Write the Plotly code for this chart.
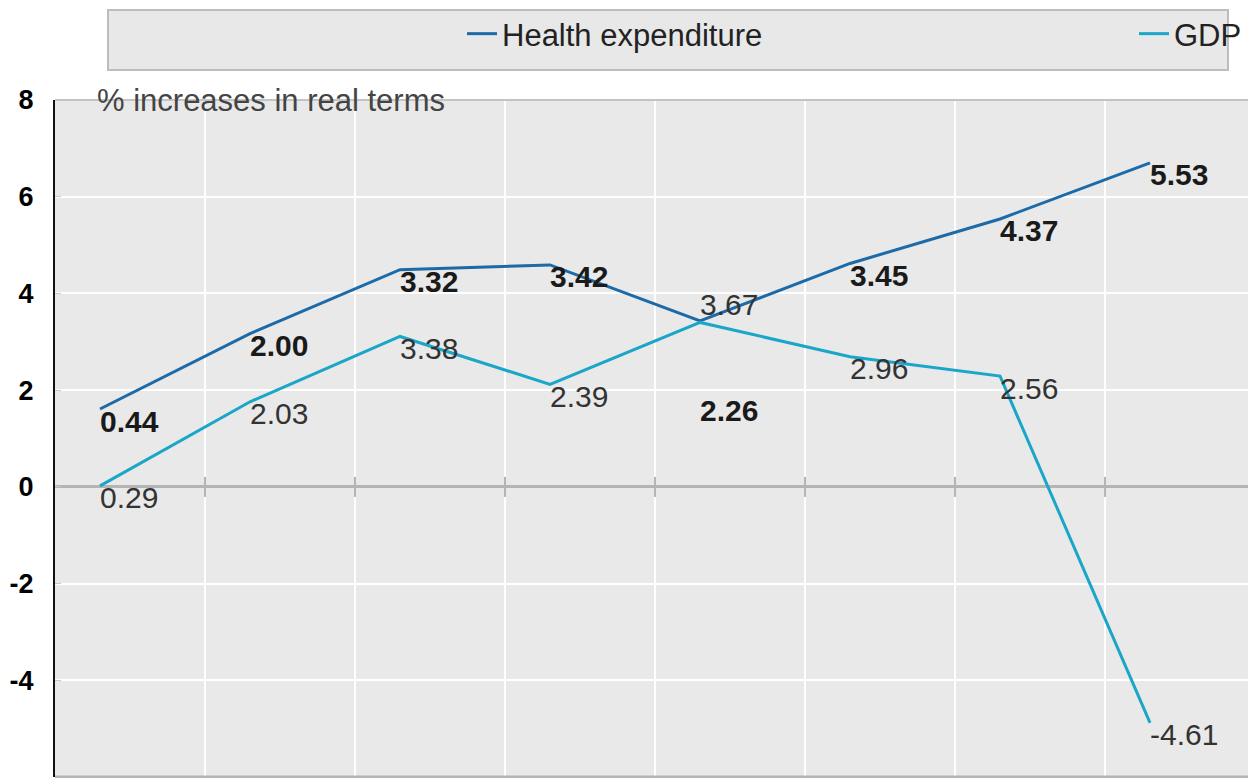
import plotly.graph_objects as go

# Growth rates, % increases in real terms, one value per period
period_index = [0, 1, 2, 3, 4, 5, 6, 7]
health_expenditure = [0.44, 2.00, 3.32, 3.42, 2.26, 3.45, 4.37, 5.53]
gdp = [0.29, 2.03, 3.38, 2.39, 3.67, 2.96, 2.56, -4.61]

y_ticks = [-6, -4, -2, 0, 2, 4, 6, 8]
y_tick_text = ["-6", "-4", "-2", "0", "2", "4", "6", "8"]
y_range = [-6, 8]
# baseline shift of each series' own value scale against the shared grid
health_shift = 1.17
gdp_shift = -0.27

HEALTH_COLOR = "#1c6aa8"
GDP_COLOR = "#1aa6c8"
FONT = "Liberation Sans, Arial, sans-serif"

# value labels sit below-right of each vertex; where the two lines meet,
# the GDP label goes above and the health label drops further down
health_labels = [f"{v:.2f}" for v in health_expenditure]
health_labels[4] = "<br><br>" + health_labels[4]
gdp_labels = [f"{v:.2f}" for v in gdp]
health_text_pos = ["bottom right"] * len(health_expenditure)
gdp_text_pos = ["bottom right"] * len(gdp)
gdp_text_pos[4] = "top right"

fig = go.Figure()

fig.add_trace(go.Scatter(
    x=period_index, y=health_expenditure, name="Health expenditure",
    mode="lines+text", xaxis="x", yaxis="y2", legend="legend",
    line=dict(color=HEALTH_COLOR, width=3),
    text=health_labels, textposition=health_text_pos,
    textfont=dict(family=FONT, size=30, color="#1a1a1a", weight="bold"),
    cliponaxis=False,
))
fig.add_trace(go.Scatter(
    x=period_index, y=gdp, name="GDP",
    mode="lines+text", xaxis="x", yaxis="y3", legend="legend2",
    line=dict(color=GDP_COLOR, width=3),
    text=gdp_labels, textposition=gdp_text_pos,
    textfont=dict(family=FONT, size=30, color="#333333"),
    cliponaxis=False,
))

x_range = [-0.3, 7.653]
x_grid_start = 0.7

# small tick marks crossing the zero line at each vertical grid line
tick_half = 10 / 48.36
zero_ticks = [
    dict(type="line", xref="x", yref="y",
         x0=x_grid_start + k, x1=x_grid_start + k, y0=-tick_half, y1=tick_half,
         line=dict(color="#b4b4b4", width=2))
    for k in range(7)
]

W, H = 1248, 778
PLOT_TOP, PLOT_BOTTOM = 100, 777
PLOT_H = PLOT_BOTTOM - PLOT_TOP
PLOT_L, PLOT_W = 55, W - 55


def py(pix):
    return (PLOT_BOTTOM - pix) / PLOT_H


def px(pix):
    return (pix - PLOT_L) / PLOT_W


# legends are placed against the whole figure so they don't push the margins
legend_common = dict(
    orientation="h", xref="container", yref="container",
    yanchor="middle", y=1 - 34 / H, xanchor="left",
    bgcolor="rgba(0,0,0,0)", borderwidth=0,
    font=dict(family=FONT, size=31, color="#222222"),
    itemwidth=30,
)

fig.update_layout(
    width=W, height=H,
    margin=dict(l=PLOT_L, r=0, t=PLOT_TOP, b=H - PLOT_BOTTOM, autoexpand=False),
    paper_bgcolor="white",
    plot_bgcolor="#e9e9e9",
    showlegend=True,
    legend=dict(legend_common, x=462 / W),
    legend2=dict(legend_common, x=1134 / W),
    xaxis=dict(
        range=x_range, tick0=x_grid_start, dtick=1,
        showticklabels=False, showgrid=True, gridcolor="white", gridwidth=2,
        zeroline=False, showline=False, ticks="",
    ),
    yaxis=dict(
        range=y_range, tickvals=y_ticks, ticktext=y_tick_text,
        tickfont=dict(family=FONT, size=27, color="#000000", weight="bold"),
        showgrid=True, gridcolor="white", gridwidth=2,
        zeroline=True, zerolinecolor="#b4b4b4", zerolinewidth=3,
        showline=True, linecolor="#111111", linewidth=2,
        ticks="inside", ticklen=6, tickcolor="#c8c8c8",
        ticklabelstandoff=14,
    ),
    yaxis2=dict(
        range=[y_range[0] - health_shift, y_range[1] - health_shift],
        overlaying="y", anchor="x", visible=False,
    ),
    yaxis3=dict(
        range=[y_range[0] - gdp_shift, y_range[1] - gdp_shift],
        overlaying="y", anchor="x", visible=False,
    ),
    shapes=[
        # legend frame
        dict(type="rect", xref="paper", yref="paper",
             x0=px(108), x1=px(1228), y0=py(70), y1=py(10),
             fillcolor="#e8e8e8", line=dict(color="#bdbdbd", width=2),
             layer="below"),
        # top and bottom frame lines of the plot area
        dict(type="line", xref="paper", yref="paper", x0=0, x1=1, y0=1, y1=1,
             line=dict(color="#c4c4c4", width=2)),
        dict(type="line", xref="paper", yref="paper", x0=0, x1=1, y0=0, y1=0,
             line=dict(color="#b4b4b4", width=3)),
    ] + zero_ticks,
    annotations=[
        dict(text="% increases in real terms", xref="paper", yref="paper",
             x=px(95), y=1.0, xanchor="left", yanchor="middle",
             showarrow=False,
             font=dict(family=FONT, size=31, color="#444444")),
    ],
)

fig.write_html("out.html")
